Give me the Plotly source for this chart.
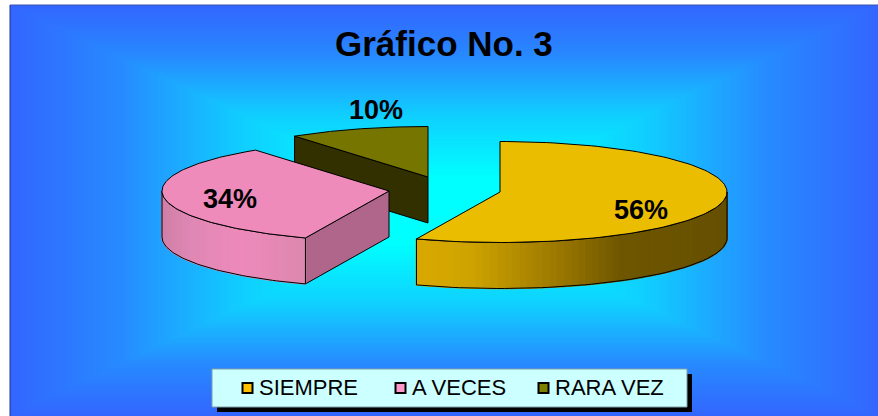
import numpy as np
import plotly.graph_objects as go

# data
categories = ['SIEMPRE', 'A VECES', 'RARA VEZ']
shares = [56, 34, 10]
labels = ['56%', '34%', '10%']
title_text = 'Gráfico No. 3'

# colours
top_colors = ['#ebbd00', '#ee8bbb', '#757500']
swatch_colors = ['#ffc000', '#ff99cc', '#808000']
cut_colors = [None, '#b0668a', '#333000']

W, H = 878, 416
RX, RY, DEPTH = 227, 50.5, 46
# slice tips after exploding, in pixels
tips = [(500, 192), (389, 191), (428, 177)]
label_pos = [(641, 210), (230, 199), (376, 110)]

# shading of the outer wall, left to right
wall_shades = {
    0: ([417, 470, 550, 620, 728],
        [(217, 169, 0), (207, 164, 0), (160, 124, 0), (111, 87, 0), (102, 80, 0)]),
    1: ([162, 190, 240, 305],
        [(208, 128, 168), (224, 136, 181), (238, 139, 187), (221, 136, 175)]),
}


def rim(tip, a0, a1, n=80):
    # angles are clockwise from 12 o'clock
    a = np.radians(np.linspace(a0, a1, n))
    return tip[0] + RX * np.sin(a), tip[1] - RY * np.cos(a)


def poly(x, y, fill, line='black', width=1):
    return go.Scatter(x=list(x), y=list(y), mode='lines', fill='toself', fillcolor=fill,
                      line=dict(color=line, width=width), hoverinfo='skip', showlegend=False)


def edge(x, y):
    return go.Scatter(x=list(x), y=list(y), mode='lines', line=dict(color='black', width=1),
                      hoverinfo='skip', showlegend=False)


def draw_wall(fig, i, tip, a0, a1):
    xs, ys = rim(tip, a0, a1, 60)
    px, cols = wall_shades[i]
    cols = np.array(cols, dtype=float)
    for k in range(len(xs) - 1):
        xm = (xs[k] + xs[k + 1]) / 2
        c = [int(np.interp(xm, px, cols[:, j])) for j in range(3)]
        col = 'rgb(%d,%d,%d)' % tuple(c)
        fig.add_trace(poly([xs[k], xs[k + 1], xs[k + 1], xs[k], xs[k]],
                           [ys[k], ys[k + 1], ys[k + 1] + DEPTH, ys[k] + DEPTH, ys[k]],
                           col, line=col, width=1.5))
    fig.add_trace(edge(list(xs) + list(xs[::-1]) + [xs[0]],
                       list(ys) + list(ys[::-1] + DEPTH) + [ys[0]]))


fig = go.Figure()

# slice angles from the shares
ends = np.cumsum(shares) / sum(shares) * 360
starts = np.concatenate([[0], ends[:-1]])

# back to front: rara vez, a veces, siempre
for i in [2, 1, 0]:
    tip = tips[i]
    a0, a1 = starts[i], ends[i]
    # cut face, only where it looks at the viewer
    if cut_colors[i]:
        ex, ey = rim(tip, a0, a0, 1)
        fig.add_trace(poly([tip[0], ex[0], ex[0], tip[0], tip[0]],
                           [tip[1], ey[0], ey[0] + DEPTH, tip[1] + DEPTH, tip[1]],
                           cut_colors[i]))
    # outer wall, front half only
    w0, w1 = max(a0, 90), min(a1, 270)
    if w0 < w1:
        draw_wall(fig, i, tip, w0, w1)
    rx_, ry_ = rim(tip, a0, a1, 120)
    fig.add_trace(poly([tip[0]] + list(rx_) + [tip[0]], [tip[1]] + list(ry_) + [tip[1]], top_colors[i]))

# slice labels
for lab, (lx, ly) in zip(labels, label_pos):
    fig.add_annotation(x=lx, y=ly, text='<b>%s</b>' % lab, showarrow=False,
                       font=dict(size=27, color='black'))

# background, rectangular gradient out from the middle
shapes = []
bx0, by0, bx1, by1 = 10, 5, 878, 416
steps = 150
grad_t = [0, 0.16, 0.46, 0.75, 1]
grad_g = [255, 255, 208, 138, 102]
for s in range(steps):
    t = 1 - s / steps
    cx, cy = (bx0 + bx1) / 2, (by0 + by1) / 2
    g = np.interp(t, grad_t, grad_g)
    col = 'rgb(%d,%d,255)' % (round(51 * (255 - g) / 153), round(g))
    shapes.append(dict(type='rect', layer='below', line_width=0, fillcolor=col,
                       x0=cx - (bx1 - bx0) / 2 * t, x1=cx + (bx1 - bx0) / 2 * t,
                       y0=cy - (by1 - by0) / 2 * t, y1=cy + (by1 - by0) / 2 * t))
shapes.append(dict(type='line', layer='below', x0=bx0, x1=bx0, y0=by0, y1=by1, line=dict(color='#223388', width=1)))
shapes.append(dict(type='line', layer='below', x0=bx0, x1=bx1, y0=by0, y1=by0, line=dict(color='#3a55b0', width=1)))

# legend box with its shadow
shapes.append(dict(type='rect', layer='below', x0=217, x1=692, y0=374, y1=412, line_width=0, fillcolor='black'))
shapes.append(dict(type='rect', layer='below', x0=212, x1=687, y0=369, y1=407, fillcolor='#ccffff',
                   line=dict(color='#7f9fa8', width=1)))

legend_swatch_x = [247.5, 400.5, 543.5]
legend_text_x = [257, 410, 552.5]
for name, col, sx, tx in zip(categories, swatch_colors, legend_swatch_x, legend_text_x):
    fig.add_trace(go.Scatter(x=[sx], y=[388], mode='markers', hoverinfo='skip', showlegend=False,
                             marker=dict(symbol='square', size=10, color=col,
                                         line=dict(color='black', width=2))))
    fig.add_annotation(x=tx, y=387.5, text=name, showarrow=False, xanchor='left',
                       font=dict(size=22, color='black'))

fig.add_annotation(x=444, y=43, text='<b>%s</b>' % title_text, showarrow=False,
                   font=dict(size=35, color='black'))

fig.update_layout(
    width=W, height=H,
    margin=dict(l=0, r=0, t=0, b=0),
    paper_bgcolor='white',
    plot_bgcolor='white',
    showlegend=False,
    font=dict(family='Liberation Sans'),
    shapes=shapes,
)
fig.update_xaxes(range=[0, W], visible=False, fixedrange=True)
fig.update_yaxes(range=[H, 0], visible=False, fixedrange=True)

fig.write_html("out.html", post_script="document.body.style.margin='0';", config=dict(displayModeBar=False))
